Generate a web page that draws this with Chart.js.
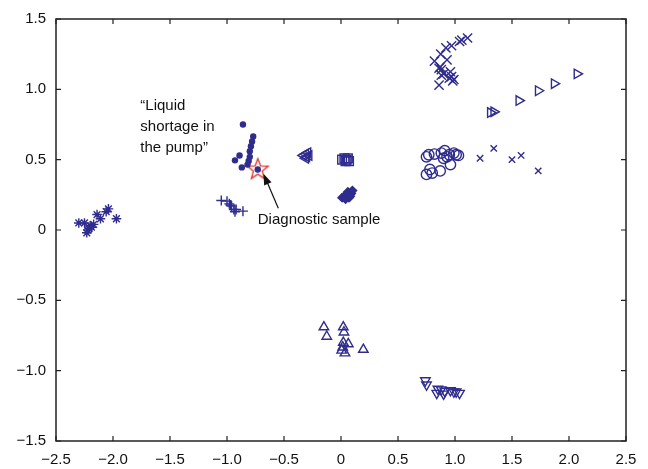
<!DOCTYPE html>
<html><head><meta charset="utf-8">
<script src="https://cdn.jsdelivr.net/npm/chart.js@4.4.1/dist/chart.umd.min.js"></script>
<style>html,body{margin:0;background:#fff}#wrap{width:648px;height:469px}</style>
</head><body><div id="wrap"><canvas id="c"></canvas></div>
<script>
// projected samples, one list of [x, y] per fault class
const asterisks = [[-2.30,0.05],[-2.25,0.05],[-2.22,0.0],[-2.23,-0.02],[-2.20,0.03],[-2.17,0.04],[-2.19,0.02],
  [-2.21,0.01],[-2.14,0.11],[-2.11,0.08],[-2.06,0.13],[-2.04,0.15],[-1.97,0.08]];
const dots = [[-0.86,0.75],[-0.77,0.665],[-0.78,0.63],[-0.79,0.595],[-0.80,0.56],[-0.80,0.52],[-0.81,0.49],
  [-0.82,0.465],[-0.89,0.53],[-0.93,0.495],[-0.87,0.445],[-0.73,0.43]];
const pluses = [[-1.05,0.21],[-1.00,0.205],[-0.98,0.186],[-0.97,0.177],[-0.96,0.17],[-0.94,0.146],[-0.93,0.13],
  [-0.92,0.146],[-0.86,0.134]];
const leftTri = [[-0.33,0.53],[-0.31,0.54],[-0.30,0.52],[-0.29,0.55],[-0.31,0.51],[-0.28,0.53]];
const squares = [[0.01,0.50],[0.03,0.51],[0.05,0.50],[0.07,0.49],[0.04,0.49],[0.06,0.51]];
const diamonds = [[0.01,0.23],[0.03,0.24],[0.05,0.25],[0.07,0.23],[0.09,0.26],[0.06,0.27],[0.04,0.22],
  [0.08,0.24],[0.10,0.28]];
const crossesUp = [[0.86,1.03],[0.82,1.20],[0.875,1.25],[0.92,1.295],[0.97,1.31],[1.04,1.34],[1.06,1.35],
  [1.11,1.365],[0.93,1.21],[0.87,1.16],[0.88,1.14],[0.90,1.11],[0.96,1.125],[0.97,1.09],[0.98,1.06],
  [0.88,1.10],[0.86,1.15],[0.95,1.08],[0.99,1.07]];
const crossesMid = [[1.22,0.51],[1.34,0.58],[1.50,0.50],[1.58,0.53],[1.73,0.42]];
const circles = [[0.75,0.395],[0.78,0.43],[0.80,0.405],[0.87,0.42],[0.75,0.52],[0.77,0.535],[0.82,0.54],
  [0.88,0.547],[0.91,0.564],[0.93,0.52],[0.96,0.465],[0.99,0.547],[1.01,0.535],[1.03,0.53],[0.95,0.535],[0.90,0.51]];
const rightTri = [[1.31,0.835],[1.34,0.84],[1.56,0.92],[1.73,0.99],[1.87,1.04],[2.07,1.11]];
const upTri = [[-0.15,-0.69],[-0.125,-0.757],[0.02,-0.69],[0.026,-0.727],[0.02,-0.80],[0.064,-0.81],
  [0.006,-0.856],[0.035,-0.875],[0.196,-0.85],[0.015,-0.833]];
const downTri = [[0.74,-1.07],[0.75,-1.10],[0.85,-1.13],[0.88,-1.135],[0.91,-1.145],[0.96,-1.14],[0.99,-1.15],
  [1.01,-1.15],[1.04,-1.16],[0.84,-1.16],[0.90,-1.165]];
const diagnostic = [[-0.73,0.43]];

const xTicks = [-2.5,-2.0,-1.5,-1.0,-0.5,0,0.5,1.0,1.5,2.0,2.5];
const yTicks = [-1.5,-1.0,-0.5,0,0.5,1.0,1.5];

const BLUE = "#2f2c8e", NONE = "rgba(0,0,0,0)";
const FONT = "'Liberation Sans', Arial, sans-serif";
const pts = a => a.map(([x,y])=>({x,y}));

function starImage(r, ri){
  const c=document.createElement("canvas"), s=Math.ceil(2*r+4); c.width=c.height=s;
  const g=c.getContext("2d"); g.beginPath();
  for(let i=0;i<10;i++){ const rr=i%2?ri:r, a=-Math.PI/2+i*Math.PI/5;
    g.lineTo(s/2+rr*Math.cos(a), s/2+rr*Math.sin(a)); }
  g.closePath(); g.fillStyle="#fff"; g.fill(); g.strokeStyle="#e3342b"; g.lineWidth=1.3; g.stroke();
  return c;
}

function ds(data, style, r, opt){
  return Object.assign({ data:pts(data), pointStyle:style, pointRadius:r, borderColor:BLUE,
    backgroundColor:NONE, pointBorderWidth:1.4, order:2 }, opt||{});
}

const datasets = [
  ds(dots,"circle",3.2,{backgroundColor:BLUE,pointBorderWidth:0,order:0}),
  ds(diagnostic,starImage(11,4.6),11,{order:1}),
  ds(asterisks,"star",4.8,{pointBorderWidth:1.4}),
  ds(pluses,"cross",5),
  ds(leftTri,"triangle",5.5,{pointRotation:-90}),
  ds(squares,"rect",6.2),
  ds(diamonds,"rectRot",4.2,{backgroundColor:BLUE}),
  ds(crossesUp,"crossRot",6.5),
  ds(crossesMid,"crossRot",4.5),
  ds(circles,"circle",5.2),
  ds(rightTri,"triangle",5.5,{pointRotation:90}),
  ds(upTri,"triangle",5.5),
  ds(downTri,"triangle",5.5,{pointRotation:180})
];

const fmt = v => v===0 ? "0" : v.toFixed(1).replace("-","\u2212");

// frame with inward ticks on all four sides, plus the text callouts
const frame = {
  id:"frame",
  beforeDatasetsDraw(ch){
    const {ctx, chartArea:a, scales:{x,y}} = ch, L=5;
    ctx.save(); ctx.strokeStyle="#222"; ctx.lineWidth=1.5;
    ctx.strokeRect(a.left,a.top,a.right-a.left,a.bottom-a.top);
    ctx.lineWidth=1.2; ctx.beginPath();
    xTicks.forEach(v=>{ const p=x.getPixelForValue(v);
      ctx.moveTo(p,a.bottom); ctx.lineTo(p,a.bottom-L); ctx.moveTo(p,a.top); ctx.lineTo(p,a.top+L); });
    yTicks.forEach(v=>{ const p=y.getPixelForValue(v);
      ctx.moveTo(a.left,p); ctx.lineTo(a.left+L,p); ctx.moveTo(a.right,p); ctx.lineTo(a.right-L,p); });
    ctx.stroke(); ctx.restore();
  },
  afterDraw(ch){
    const {ctx, scales:{x,y}} = ch;
    ctx.save(); ctx.fillStyle="#111"; ctx.font="15px "+FONT;
    ctx.textBaseline="middle"; ctx.textAlign="left";
    const tx=x.getPixelForValue(-1.76), ty=y.getPixelForValue(0.885);
    ["\u201CLiquid","shortage in","the pump\u201D"].forEach((s,i)=>ctx.fillText(s,tx,ty+i*21));
    ctx.fillText("Diagnostic sample", x.getPixelForValue(-0.73), y.getPixelForValue(0.07));
    // arrow from the caption to the star
    const x0=x.getPixelForValue(-0.55), y0=y.getPixelForValue(0.155);
    const x1=x.getPixelForValue(-0.68), y1=y.getPixelForValue(0.40);
    const ang=Math.atan2(y1-y0,x1-x0), h=11, w=4;
    ctx.strokeStyle="#111"; ctx.lineWidth=1.2; ctx.beginPath();
    ctx.moveTo(x0,y0); ctx.lineTo(x1-Math.cos(ang)*h*0.8,y1-Math.sin(ang)*h*0.8); ctx.stroke();
    ctx.beginPath(); ctx.moveTo(x1,y1);
    ctx.lineTo(x1-Math.cos(ang)*h+Math.sin(ang)*w, y1-Math.sin(ang)*h-Math.cos(ang)*w);
    ctx.lineTo(x1-Math.cos(ang)*h-Math.sin(ang)*w, y1-Math.sin(ang)*h+Math.cos(ang)*w);
    ctx.closePath(); ctx.fill();
    ctx.restore();
  }
};

const tickFont = {family:FONT, size:15};
new Chart(document.getElementById("c"), {
  type:"scatter",
  data:{datasets},
  options:{
    responsive:true, maintainAspectRatio:false, animation:false,
    layout:{padding:{top:17,right:22,left:0,bottom:0}},
    plugins:{legend:{display:false},tooltip:{enabled:false}},
    scales:{
      x:{min:-2.5,max:2.5, grid:{display:false,drawTicks:false}, border:{display:false},
        afterBuildTicks:s=>{ s.ticks=xTicks.map(v=>({value:v})); },
        afterFit:s=>{ s.height=28; },
        ticks:{callback:fmt, color:"#111", font:tickFont, padding:10, maxRotation:0, autoSkip:false}},
      y:{min:-1.5,max:1.5, grid:{display:false,drawTicks:false}, border:{display:false},
        afterBuildTicks:s=>{ s.ticks=yTicks.map(v=>({value:v})); },
        afterFit:s=>{ s.width=56; },
        ticks:{callback:fmt, color:"#111", font:tickFont, padding:10, autoSkip:false}}
    }
  },
  plugins:[frame]
});
</script></body></html>
